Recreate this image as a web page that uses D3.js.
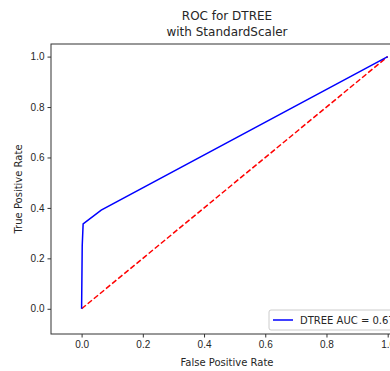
<!DOCTYPE html>
<html>
<head>
<meta charset="utf-8">
<script src="https://cdn.jsdelivr.net/npm/d3@7"></script>
<style>
  body { margin: 0; background: #fff; }
  svg { display: block; font-family: "DejaVu Sans", sans-serif; }
  .axis text { font-size: 10px; fill: #262626; }
  .axis line, .axis path { stroke: #333; }
</style>
</head>
<body>
<svg id="chart"></svg>
<script>
// ROC curve points
const fpr = [0, 0.002, 0.005, 0.064, 1];
const tpr = [0, 0.25, 0.337, 0.391, 1];
const chanceX = [0, 1];
const chanceY = [0, 1];
const xTicks = [0, 0.2, 0.4, 0.6, 0.8, 1.0];
const yTicks = [0, 0.2, 0.4, 0.6, 0.8, 1.0];
const titleLines = ['ROC for DTREE', 'with StandardScaler'];
const legendLabel = 'DTREE AUC = 0.67';

const W = 390, H = 371;
const margin = { top: 44, left: 51 };
const plotW = 352, plotH = 290;

const svg = d3.select('#chart').attr('width', W).attr('height', H);

const x = d3.scaleLinear().domain([-0.1, 1.05]).range([0, plotW]);
const y = d3.scaleLinear().domain([-0.1, 1.05]).range([plotH, 0]);

const g = svg.append('g').attr('transform', `translate(${margin.left},${margin.top})`);

// axes
const xAxisG = g.append('g').attr('class', 'axis')
  .attr('transform', `translate(0,${plotH})`)
  .call(d3.axisBottom(x).tickValues(xTicks).tickSize(3.5).tickPadding(3).tickSizeOuter(0).tickFormat(d3.format('.1f')));
xAxisG.select('.domain').remove();

const yAxisG = g.append('g').attr('class', 'axis')
  .call(d3.axisLeft(y).tickValues(yTicks).tickSize(3.5).tickPadding(3).tickSizeOuter(0).tickFormat(d3.format('.1f')));
yAxisG.select('.domain').remove();

// frame
g.append('rect')
  .attr('width', plotW).attr('height', plotH)
  .attr('fill', 'none').attr('stroke', '#333').attr('stroke-width', 1);

const line = d3.line().x(d => x(d[0])).y(d => y(d[1]));

g.append('path')
  .datum(chanceX.map((v, i) => [v, chanceY[i]]))
  .attr('d', line)
  .attr('fill', 'none')
  .attr('stroke', 'red')
  .attr('stroke-width', 1.5)
  .attr('stroke-dasharray', '5.5,2.4');

g.append('path')
  .datum(fpr.map((v, i) => [v, tpr[i]]))
  .attr('d', line)
  .attr('fill', 'none')
  .attr('stroke', 'blue')
  .attr('stroke-width', 1.5);

// legend (lower right, partly outside the picture like the original)
const lg = g.append('g').attr('transform', `translate(${218},${266})`);
lg.append('rect')
  .attr('width', 128).attr('height', 20).attr('rx', 2)
  .attr('fill', 'white').attr('fill-opacity', 0.8)
  .attr('stroke', '#ccc');
lg.append('line')
  .attr('x1', 4).attr('x2', 24).attr('y1', 10).attr('y2', 10)
  .attr('stroke', 'blue').attr('stroke-width', 1.5);
lg.append('text')
  .attr('x', 31).attr('y', 14)
  .attr('font-size', 10).attr('fill', '#262626')
  .text(legendLabel);

// title
const cx = margin.left + plotW / 2;
svg.append('g').selectAll('text')
  .data(titleLines)
  .join('text')
  .attr('x', cx)
  .attr('y', (d, i) => 20 + i * 16)
  .attr('text-anchor', 'middle')
  .attr('font-size', 12)
  .attr('fill', '#262626')
  .text(d => d);

// axis labels
svg.append('text')
  .attr('x', cx).attr('y', 366)
  .attr('text-anchor', 'middle')
  .attr('font-size', 10).attr('fill', '#262626')
  .text('False Positive Rate');

svg.append('text')
  .attr('transform', `translate(22,${margin.top + plotH / 2}) rotate(-90)`)
  .attr('text-anchor', 'middle')
  .attr('font-size', 10).attr('fill', '#262626')
  .text('True Positive Rate');
</script>
</body>
</html>
